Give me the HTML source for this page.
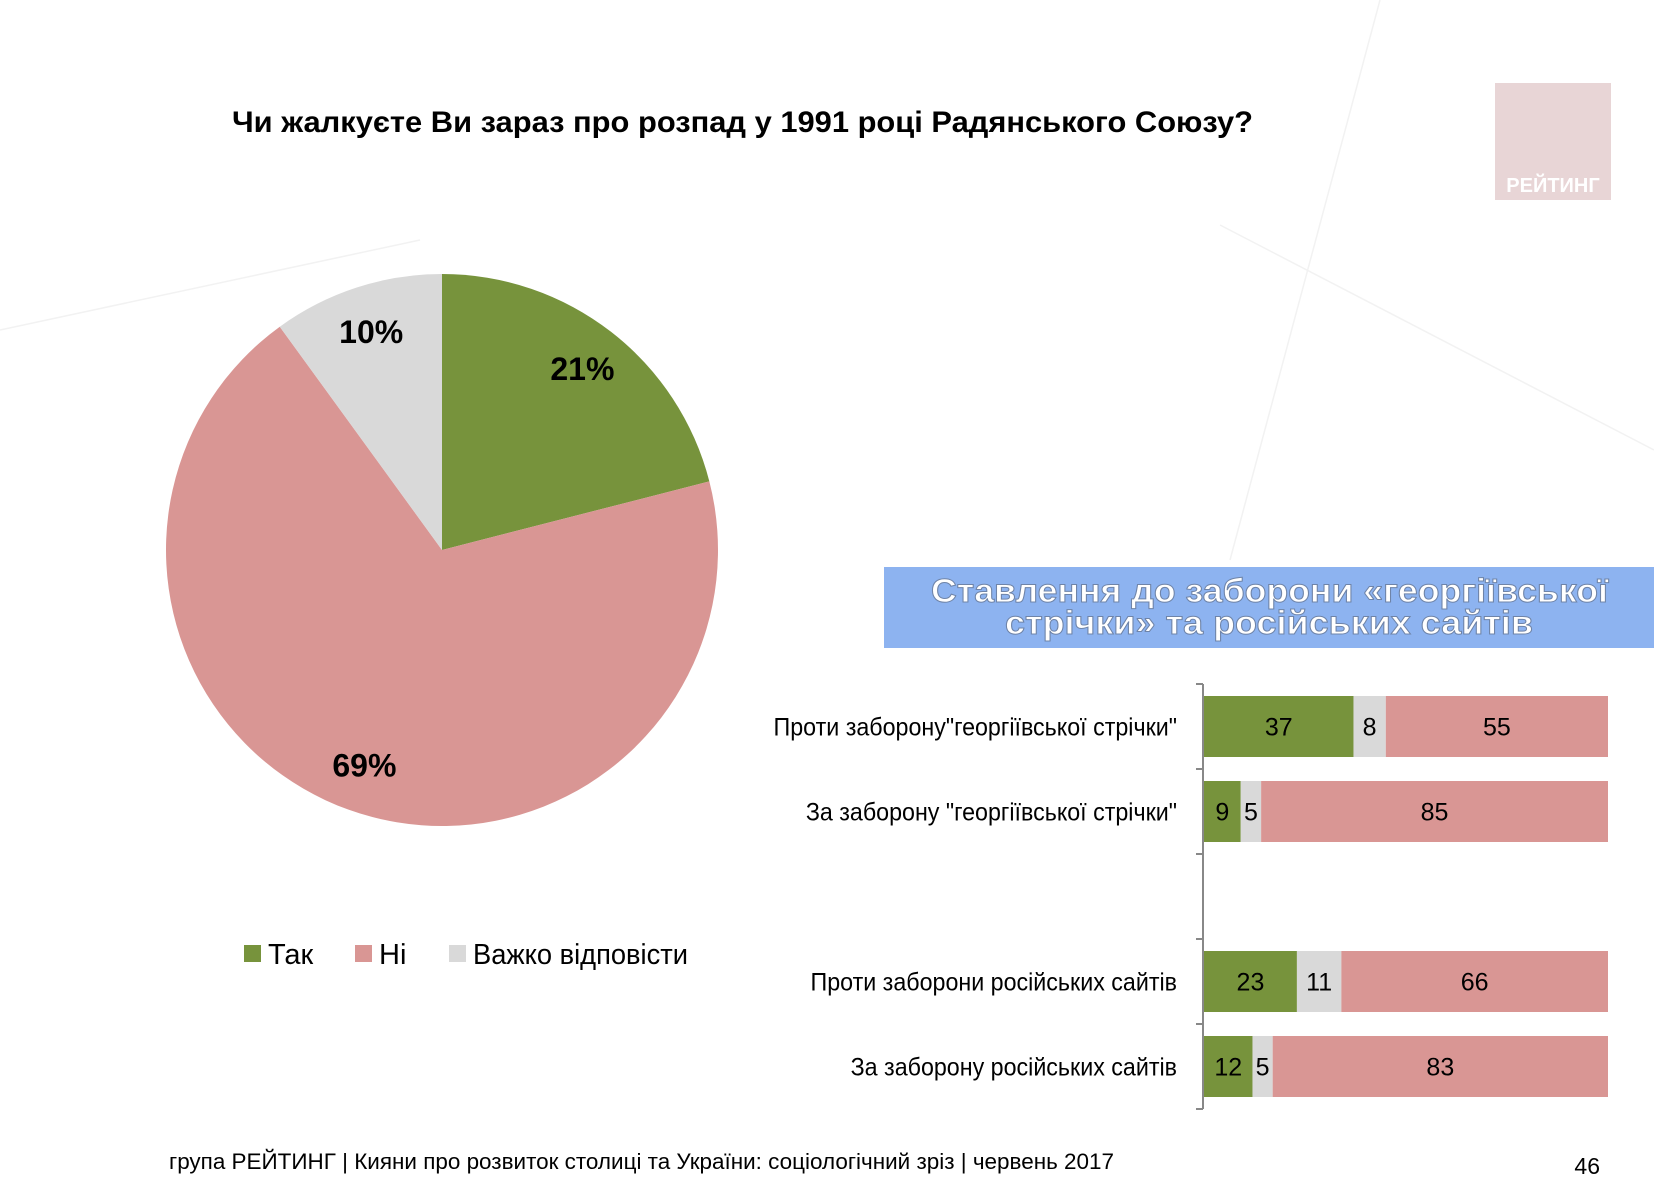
<!DOCTYPE html>
<html><head><meta charset="utf-8">
<style>
body{margin:0;background:#fff;}
#root{position:relative;width:1654px;height:1181px;overflow:hidden;background:#fff;font-family:"Liberation Sans","DejaVu Sans",sans-serif;}
svg{position:absolute;left:0;top:0;}
</style></head>
<body>
<div id="root">
<svg id="s" width="1654" height="1181">
  <g stroke="#f2f2f2" stroke-width="1.5" fill="none">
    <line x1="0" y1="330" x2="420" y2="240"/>
    <line x1="1220" y1="225" x2="1654" y2="450"/>
    <line x1="1380" y1="0" x2="1230" y2="560"/>
  </g>
  <text x="232" y="132" font-size="30" font-weight="bold" fill="#000" textLength="1021" lengthAdjust="spacingAndGlyphs" font-family="Liberation Sans, sans-serif">Чи жалкуєте Ви зараз про розпад у 1991 році Радянського Союзу?</text>
  <rect x="1495" y="83" width="116" height="117" fill="#e8d5d6"/>
  <text x="1553" y="192" font-size="20" font-weight="900" fill="#fff" text-anchor="middle" font-family="Liberation Sans, sans-serif">РЕЙТИНГ</text>
  <g id="pie"></g>
  <g id="legend"></g>
  <rect x="884" y="567" width="770" height="81" fill="#8db3f0"/>
  <g font-size="33" font-weight="900" fill="#fff" stroke="#6f84a8" stroke-width="1" font-family="Liberation Sans, sans-serif" lengthAdjust="spacingAndGlyphs">
    <text x="931" y="602" textLength="677" lengthAdjust="spacingAndGlyphs">Ставлення до заборони «георгіївської</text>
    <text x="1005" y="634" textLength="528" lengthAdjust="spacingAndGlyphs">стрічки» та російських сайтів</text>
  </g>
  <g id="bars"></g>
  <text x="169" y="1169" font-size="22" fill="#000" textLength="945" lengthAdjust="spacingAndGlyphs" font-family="Liberation Sans, sans-serif">група РЕЙТИНГ  | Кияни про розвиток столиці та України: соціологічний зріз |  червень 2017</text>
  <text x="1600" y="1174" font-size="23" fill="#000" text-anchor="end" font-family="Liberation Sans, sans-serif">46</text>
</svg>
</div>
<script>
const pieLabels=["Так","Ні","Важко відповісти"];
const pieValues=[21,69,10];
const pieColors=["#77933c","#d99694","#d9d9d9"];
const barCategories=["Проти заборону\"георгіївської стрічки\"","За заборону \"георгіївської стрічки\"","","Проти заборони російських сайтів","За заборону російських сайтів"];
const seriesGreen=[37,9,null,23,12];
const seriesGray=[8,5,null,11,5];
const seriesPink=[55,85,null,66,83];

const NS="http://www.w3.org/2000/svg";
function mk(tag,attrs,parent){const e=document.createElementNS(NS,tag);for(const k in attrs)e.setAttribute(k,attrs[k]);parent.appendChild(e);return e;}

// Pie
const pie=document.getElementById('pie');
const cx=442,cy=550,R=276;
const total=pieValues.reduce((a,b)=>a+b,0);
let acc=0;
pieValues.forEach((v,i)=>{
  const a0=acc/total*2*Math.PI, a1=(acc+v)/total*2*Math.PI; acc+=v;
  const x0=cx+R*Math.sin(a0),y0=cy-R*Math.cos(a0),x1=cx+R*Math.sin(a1),y1=cy-R*Math.cos(a1);
  const large=(a1-a0)>Math.PI?1:0;
  const p=mk('path',{d:`M${cx},${cy} L${x0},${y0} A${R},${R} 0 ${large} 1 ${x1},${y1} Z`,fill:pieColors[i]},pie);
  
  
  const am=(a0+a1)/2, rr=R*0.83;
  const t=mk('text',{x:cx+rr*Math.sin(am),y:cy-rr*Math.cos(am)+11,'font-size':32,'font-weight':'bold','text-anchor':'middle',fill:'#000','font-family':'Liberation Sans, sans-serif'},pie);
  t.textContent=v+'%';
  
  
});
// Legend
const leg=document.getElementById('legend');
const legX=[244,355,449];
pieLabels.forEach((l,i)=>{
  const r=mk('rect',{x:legX[i],y:945,width:17,height:17,fill:pieColors[i]},leg);
  
  
  const t=mk('text',{x:legX[i]+24,y:964,'font-size':29,fill:'#000','font-family':'Liberation Sans, sans-serif'},leg);
  if(i===2){t.setAttribute('textLength','215');t.setAttribute('lengthAdjust','spacingAndGlyphs');}
  t.textContent=l;
  
  
});
// Bars
const bars=document.getElementById('bars');
const x0=1204,plotW=404,top0=684,band=85,barH=61;
const ax=mk('line',{x1:1203,y1:top0,x2:1203,y2:top0+band*barCategories.length,stroke:'#888','stroke-width':2},bars);


for(let i=0;i<=barCategories.length;i++){
  const tk=mk('line',{x1:1196,y1:top0+i*band,x2:1203,y2:top0+i*band,stroke:'#888','stroke-width':2},bars);
  
  
}
barCategories.forEach((c,i)=>{
  const y=top0+i*band+(band-barH)/2;
  if(c){
    const t=mk('text',{x:1177,y:y+barH/2+9,'font-size':25,'text-anchor':'end',fill:'#000','font-family':'Liberation Sans, sans-serif'},bars);
    t.textContent=c;
    const w=t.getComputedTextLength();
    t.setAttribute('textLength',String(w*0.93));
    t.setAttribute('lengthAdjust','spacingAndGlyphs');
    
    
  }
  if(seriesGreen[i]==null)return;
  const sum=seriesGreen[i]+seriesGray[i]+seriesPink[i];
  let x=x0;
  [[seriesGreen,"#77933c","green"],[seriesGray,"#d9d9d9","gray"],[seriesPink,"#d99694","pink"]].forEach(([arr,col,nm])=>{
    const v=arr[i], w=v/sum*plotW;
    const r=mk('rect',{x:x,y:y,width:w,height:barH,fill:col},bars);
    
    
    const t=mk('text',{x:x+w/2,y:y+barH/2+9,'font-size':25,'text-anchor':'middle',fill:'#000','font-family':'Liberation Sans, sans-serif'},bars);
    t.textContent=v;
    
    
    x+=w;
  });
});
</script>
</body></html>
